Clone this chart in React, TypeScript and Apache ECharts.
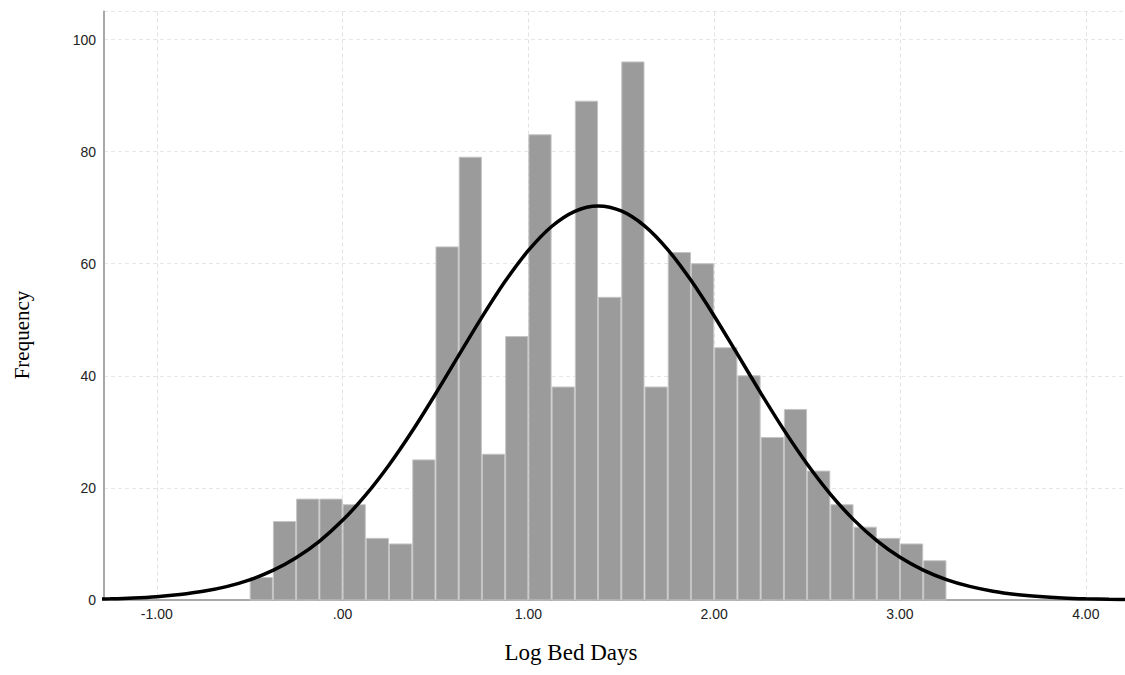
import React, { useEffect, useRef } from "react";
import * as echarts from "echarts";

// Histogram bins: first bin starts at -0.50, each bin is 0.125 wide
const FIRST_BIN_START = -0.5;
const BIN_WIDTH = 0.125;
const FREQUENCIES = [
  4, 14, 18, 18, 17, 11, 10, 25, 63, 79, 26, 47, 83, 38, 89, 54, 96, 38, 62, 60,
  45, 40, 29, 34, 23, 17, 13, 11, 10, 7,
];

// Normal curve overlay (every 0.125)
const CURVE_X = [
  -1.375, -1.25, -1.125, -1.0, -0.875, -0.75, -0.625, -0.5, -0.375, -0.25,
  -0.125, 0.0, 0.125, 0.25, 0.375, 0.5, 0.625, 0.75, 0.875, 1.0, 1.125, 1.25,
  1.375, 1.5, 1.625, 1.75, 1.875, 2.0, 2.125, 2.25, 2.375, 2.5, 2.625, 2.75,
  2.875, 3.0, 3.125, 3.25, 3.375, 3.5, 3.625, 3.75, 3.875, 4.0, 4.125, 4.25,
];
const CURVE_Y = [
  0.12, 0.21, 0.36, 0.6, 0.98, 1.55, 2.39, 3.6, 5.28, 7.55,
  10.48, 14.21, 18.74, 24.08, 30.14, 36.75, 43.64, 50.46, 56.85, 62.36, 66.64, 69.35,
  70.3, 69.41, 66.75, 62.52, 57.03, 50.68, 43.86, 36.97, 30.35, 24.27, 18.9, 14.34,
  10.59, 7.62, 5.34, 3.65, 2.43, 1.57, 0.99, 0.61, 0.36, 0.21, 0.12, 0.07,
];

const X_TICKS = [-1, 0, 1, 2, 3, 4];
const X_MIN = -1.284;
const X_MAX = 4.211;
const Y_MAX = 105;
const Y_INTERVAL = 20;

const X_TITLE = "Log Bed Days";
const Y_TITLE = "Frequency";

function fmtX(v: number): string {
  if (Math.abs(v) < 1e-9) return ".00";
  return v.toFixed(2);
}

export default function App() {
  const ref = useRef<HTMLDivElement>(null);

  useEffect(() => {
    if (!ref.current) return;
    const chart = echarts.init(ref.current, null, { renderer: "svg" });

    const bins = FREQUENCIES.map((c, i) => {
      const s = FIRST_BIN_START + i * BIN_WIDTH;
      return [s, s + BIN_WIDTH, c];
    });

    const option: any = {
      animation: false,
      backgroundColor: "#ffffff",
      grid: { left: 104, right: 0, top: 11.5, bottom: 75 },
      xAxis: {
        type: "value",
        min: X_MIN,
        max: X_MAX,
        axisLine: {
          show: true,
          onZero: false,
          lineStyle: { color: "#a8a8a8", width: 2 },
        },
        axisTick: { show: false, customValues: X_TICKS },
        axisLabel: {
          customValues: X_TICKS,
          formatter: (v: number) => fmtX(v),
          margin: 7,
          color: "#222",
          fontFamily: "Liberation Sans",
          fontSize: 14,
        },
        splitLine: {
          show: true,
          lineStyle: { color: "#e2e2e2", type: [4, 3], width: 1 },
        },
      },
      yAxis: {
        type: "value",
        min: 0,
        max: Y_MAX,
        interval: Y_INTERVAL,
        axisLine: {
          show: true,
          onZero: false,
          lineStyle: { color: "#a8a8a8", width: 2 },
        },
        axisTick: { show: false },
        axisLabel: {
          margin: 8,
          showMaxLabel: false,
          color: "#222",
          fontFamily: "Liberation Sans",
          fontSize: 14,
        },
        splitLine: {
          show: true,
          lineStyle: { color: "#e6e6e6", type: [4, 3], width: 1 },
        },
      },
      series: [
        {
          type: "custom",
          data: bins,
          z: 2,
          renderItem: (params: any, api: any) => {
            const p0 = api.coord([api.value(0), api.value(2)]);
            const p1 = api.coord([api.value(1), 0]);
            return {
              type: "rect",
              shape: {
                x: p0[0] + 0.5,
                y: p0[1],
                width: p1[0] - p0[0] - 1,
                height: p1[1] - p0[1],
              },
              style: { fill: "#9b9b9b", stroke: "#c4c4c4", lineWidth: 1 },
            };
          },
        },
        {
          type: "line",
          data: CURVE_X.map((x, i) => [x, CURVE_Y[i]]),
          showSymbol: false,
          smooth: 0.3,
          z: 5,
          lineStyle: { color: "#000000", width: 3.5 },
        },
      ],
      graphic: [
        {
          type: "text",
          x: 22,
          y: 335,
          rotation: Math.PI / 2,
          style: {
            text: Y_TITLE,
            fontFamily: "Liberation Serif",
            fontSize: 21,
            fill: "#000",
            align: "center",
            verticalAlign: "middle",
          },
        },
        {
          type: "text",
          x: 571,
          y: 652,
          style: {
            text: X_TITLE,
            fontFamily: "Liberation Serif",
            fontSize: 23,
            fill: "#000",
            align: "center",
            verticalAlign: "middle",
          },
        },
      ],
    };

    chart.setOption(option);
    return () => chart.dispose();
  }, []);

  return (
    <div
      ref={ref}
      style={{
        position: "fixed",
        left: 0,
        top: 0,
        width: 1125,
        height: 675,
        background: "#fff",
      }}
    />
  );
}
